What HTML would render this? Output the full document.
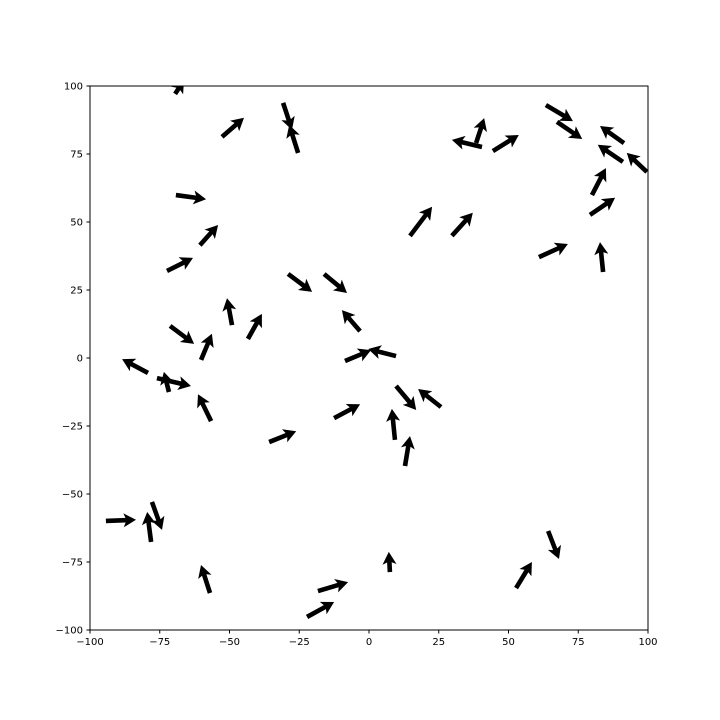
<!DOCTYPE html>
<html><head><meta charset="utf-8"><style>
body{margin:0;background:#fff;}
svg{display:block;font-family:"DejaVu Sans","Liberation Sans",sans-serif;font-size:10px;}
</style></head><body>
<svg id="chart" width="720" height="720">
<defs><clipPath id="clip"><rect x="90" y="86" width="558" height="544"/></clipPath></defs>
<rect x="0" y="0" width="720" height="720" fill="#fff"/>
<g id="arrows" clip-path="url(#clip)"></g>
<rect x="90" y="86" width="558" height="544" fill="none" stroke="#000" stroke-width="1"/>
<g id="ticks"></g>
</svg>
<script>
const xs=[-69.5,-52.7,-30.8,-25.4,-69.2,-60.6,-72.4,-71.3,-60.2,-49.1,-43.4,-29.0,-16.1,-3.2,-8.6,9.7,-79.2,-76.0,-71.7,-56.6,-35.8,-12.5,9.7,25.8,9.3,12.9,-94.3,-78.1,-77.8,-57.0,-22.2,-18.3,7.5,52.7,64.2,14.7,29.7,40.5,38.4,44.4,63.4,67.4,91.4,91.0,99.6,79.9,79.2,60.9,83.9];
const ys=[97.1,81.3,93.8,75.4,59.9,41.5,32.0,11.8,-0.7,12.1,7.0,30.9,30.9,9.9,-1.1,0.7,-5.5,-7.4,-12.5,-23.2,-30.9,-22.1,-10.3,-18.0,-30.1,-39.7,-59.9,-67.6,-52.9,-86.4,-95.2,-85.7,-78.7,-84.6,-63.6,44.9,44.9,77.6,79.0,76.1,93.0,86.8,79.0,72.1,68.4,59.9,52.6,37.1,31.6];
const us=[3.2,7.9,3.2,-3.2,10.8,6.5,9.3,8.6,3.9,-1.8,5.0,8.6,8.2,-6.5,9.3,-10.0,-9.3,12.2,-1.8,-4.7,9.7,9.3,7.2,-8.2,-1.1,1.8,10.8,-1.4,3.6,-3.2,9.7,10.8,-0.4,5.7,3.9,7.9,7.5,-10.8,2.9,9.3,9.7,9.0,-8.6,-9.0,-7.2,5.0,9.0,10.4,-1.1];
const vs=[5.1,7.0,-9.9,10.3,-1.5,7.4,4.8,-6.6,9.6,9.9,9.2,-6.6,-7.0,7.7,4.0,2.6,5.1,-2.9,7.4,9.9,4.0,5.1,-8.8,6.6,11.4,11.0,0.4,11.0,-10.3,10.3,5.5,3.3,7.4,9.6,-10.3,10.7,8.5,2.6,9.2,5.9,-5.9,-6.3,6.3,6.3,7.0,9.9,6.3,4.8,11.0];
const xTicks=[-100,-75,-50,-25,0,25,50,75,100];
const yTicks=[-100,-75,-50,-25,0,25,50,75,100];
const NS="http://www.w3.org/2000/svg";
const sx=v=>90+(v+100)*558/200;
const sy=v=>630-(v+100)*544/200;
const g=document.getElementById('arrows');
for(let i=0;i<xs.length;i++){
  const x0=sx(xs[i]),y0=sy(ys[i]);
  const x1=sx(xs[i]+us[i]),y1=sy(ys[i]+vs[i]);
  const dx=x1-x0,dy=y1-y0,L=Math.hypot(dx,dy);
  const ux=dx/L,uy=dy/L,nx=-uy,ny=ux;
  const w=2.3,hw=7,hl=12.5,ha=10.5;
  const pts=[[0,-w],[L-ha,-w],[L-hl,-hw],[L,0],[L-hl,hw],[L-ha,w],[0,w]];
  const p=document.createElementNS(NS,'polygon');
  p.setAttribute('points',pts.map(([a,b])=>(x0+ux*a+nx*b).toFixed(1)+','+(y0+uy*a+ny*b).toFixed(1)).join(' '));
  p.setAttribute('fill','#000');
  
  
  g.appendChild(p);
}
const t=document.getElementById('ticks');
xTicks.forEach(v=>{
  const X=sx(v);
  const l=document.createElementNS(NS,'line');
  l.setAttribute('x1',X);l.setAttribute('x2',X);l.setAttribute('y1',630);l.setAttribute('y2',633.5);l.setAttribute('stroke','#000');
  
  
  t.appendChild(l);
  const s=document.createElementNS(NS,'text');
  s.setAttribute('x',X);s.setAttribute('y',645);s.setAttribute('text-anchor','middle');
  s.textContent=v<0?'\u2212'+(-v):String(v);
  
  
  t.appendChild(s);
});
yTicks.forEach(v=>{
  const Y=sy(v);
  const l=document.createElementNS(NS,'line');
  l.setAttribute('x1',86.5);l.setAttribute('x2',90);l.setAttribute('y1',Y);l.setAttribute('y2',Y);l.setAttribute('stroke','#000');
  
  
  t.appendChild(l);
  const s=document.createElementNS(NS,'text');
  s.setAttribute('x',83);s.setAttribute('y',Y+3.5);s.setAttribute('text-anchor','end');
  s.textContent=v<0?'\u2212'+(-v):String(v);
  
  
  t.appendChild(s);
});
</script>
</body></html>
